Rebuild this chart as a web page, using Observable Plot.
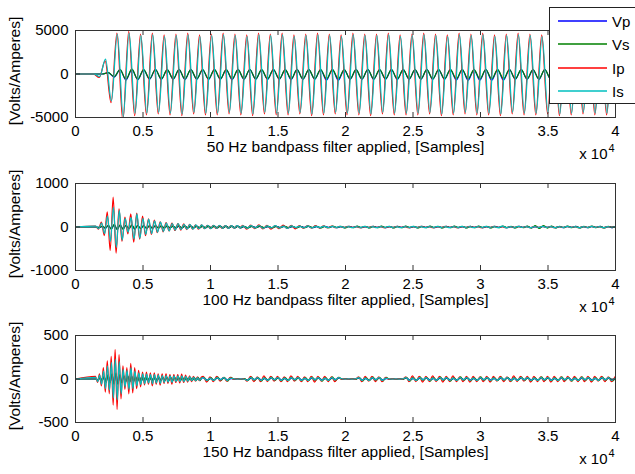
<!DOCTYPE html>
<html><head><meta charset="utf-8">
<script src="https://cdn.jsdelivr.net/npm/d3@7"></script>
<script src="https://cdn.jsdelivr.net/npm/@observablehq/plot@0.6"></script>
<style>
body{margin:0;background:#fff;}
#fig{position:relative;width:635px;height:474px;overflow:hidden;background:#fff;font-family:"Liberation Sans",Arial,sans-serif;}
.sub{position:absolute;left:0;}
#legend{position:absolute;left:549px;top:7px;width:95px;height:97px;border:1px solid #222;background:#fff;box-sizing:border-box;}
</style></head><body><div id="fig"></div><script>
// ---- shared ----
const seriesNames = ["Vp", "Vs", "Ip", "Is"];
const seriesColors = ["#0000ff", "#008000", "#ff0000", "#00bfbf"];
const xTicks = [0, 5000, 10000, 15000, 20000, 25000, 30000, 35000, 40000];
const xTickLabels = ["0", "0.5", "1", "1.5", "2", "2.5", "3", "3.5", "4"];
const yLabel = "[Volts/Amperes]";
const xLabels = ["50 Hz bandpass filter applied, [Samples]", "100 Hz bandpass filter applied, [Samples]", "150 Hz bandpass filter applied, [Samples]"];
const yTicks50 = [-5000, 0, 5000];
const yTicks100 = [-1000, 0, 1000];
const yTicks150 = [-500, 0, 500];

// ---- 50 Hz: extremum values per half cycle (samples) ----
const start50 = 1352, half50 = 437;
const shift50 = [200, 200, -30, 0];
const Vp50 = [0,0,150,-350,500,-700,500,-650,480,-600,500,-620,480,-600,500,-650,500,-600,480,-620,500,-600,480,-650,500,-600,500,-600,480,-620,500,-600,480,-650,500,-600,500,-600,480,-700,500,-720,480,-600,500,-600,500,-620,480,-600,500,-650,500,-600,480,-600,500,-620,480,-600,500,-700,500,-720,480,-700,500,-720,480,-700,500,-600,500,-600,480,-620,500,-600,480,-600,500,-620,500,-600,480,-600,500,-600];
const Vs50 = [0,0,150,-300,500,-600,550,-600,500,-550,520,-580,500,-560,520,-580,500,-560,520,-580,500,-560,520,-580,500,-560,520,-580,500,-560,520,-580,500,-560,520,-580,500,-560,520,-580,500,-560,520,-580,500,-560,520,-580,500,-560,520,-580,500,-560,520,-580,500,-560,520,-580,500,-560,520,-580,500,-560,520,-580,500,-560,520,-580,500,-560,520,-580,500,-560,520,-580,500,-560,520,-580,500,-560,520,-580];
const Ip50 = [0,-400,1500,-3300,4700,-5400,4900,-4800,4600,-4700,4700,-4600,4500,-4700,4600,-4800,4700,-4600,4500,-4700,4600,-4700,4700,-4600,4600,-4700,4500,-4800,4700,-4600,4600,-4700,4700,-4700,4500,-4600,4600,-4800,4700,-4700,4600,-4600,4500,-4700,4700,-4700,4600,-4800,4600,-4600,4700,-4700,4500,-4700,4600,-4700,4700,-4600,4600,-4800,4500,-4700,4700,-4600,4600,-4700,4700,-4700,4500,-4800,4600,-4600,4700,-4700,4600,-4700,4500,-4600,4700,-4800,4600,-4700,4600,-4600,4700,-4700,4500,-4700,4600,-4700];
const Is50 = [0,-300,1700,-3100,4600,-4900,4700,-4500,4400,-4500,4500,-4400,4300,-4500,4400,-4600,4500,-4400,4300,-4500,4400,-4500,4500,-4400,4400,-4500,4300,-4600,4500,-4400,4400,-4500,4500,-4500,4300,-4400,4400,-4600,4500,-4500,4400,-4400,4300,-4500,4500,-4500,4400,-4600,4400,-4400,4500,-4500,4300,-4500,4400,-4500,4500,-4400,4400,-4600,4300,-4500,4500,-4400,4400,-4500,4500,-4500,4300,-4600,4400,-4400,4500,-4500,4400,-4500,4300,-4400,4500,-4600,4400,-4500,4400,-4400,4500,-4500,4300,-4500,4400,-4500];

// ---- 100 Hz: burst (half cycles) + tail ----
const start100 = 1500, half100 = 218, tailStart100 = 12400, tailStep100 = 300;
const shift100 = [60, 60, -20, 0];
const Vp100 = [0,-10,15,-25,35,-45,50,-55,45,-45,35,-35,40,-45,35,-35,30,-30,25,-25,25,-20,20,-20,20,-20,20,-20,20,-20,20,-20,20,-20,20,-20,20,-20,20,-20,20,-20,20,-20,20,-20,20,-20,20,-20];
const Vs100 = [0,-10,20,-30,40,-50,60,-60,50,-50,40,-40,50,-50,40,-40,35,-35,30,-30,30,-25,25,-25,25,-20,20,-20,25,-20,20,-20,20,-20,20,-20,20,-20,20,-20,20,-20,20,-20,20,-20,20,-20,20,-20];
const Ip100 = [20,-50,110,-200,350,-540,685,-600,420,-330,230,-160,300,-350,320,-280,250,-200,190,-170,160,-130,120,-110,100,-90,90,-80,80,-70,70,-60,60,-50,50,-50,50,-40,40,-40,40,-35,35,-30,30,-30,30,-25,25,-20];
const Is100 = [20,-40,90,-150,250,-330,450,-470,380,-300,200,-120,220,-280,300,-260,200,-170,180,-150,140,-120,110,-100,90,-90,80,-70,80,-60,60,-50,60,-50,50,-40,50,-40,40,-40,40,-30,40,-30,30,-30,30,-25,30,-20];
const VpTail100 = [10,-15,15,-10,15,-15,10,-15,15,-10, 15,-15,10,-15,15,-10,15,-15,10,-15, 15,-10,15,-15,10,-15,15,-10,15,-15, 10,-15,15,-10,15,-15,10,-15,15,-10, 15,-15,10,-15,15,-10,15,-15,10,-15, 15,-10,15,-15,10,-15,15,-10,15,-15, 10,-15,15,-10,15,-15,10,-15,15,-10, 15,-15,10,-15,15,-10,15,-15,10,-15, 15,-10,15,-15,10,-15,15,-10,15,-15, 10,-15,15];
const VsTail100 = [15,-20,15,-15,20,-15,15,-20,15,-15, 20,-15,15,-20,15,-15,20,-15,15,-20, 15,-15,20,-15,15,-20,15,-15,20,-15, 15,-20,15,-15,20,-15,15,-20,15,-15, 20,-15,15,-20,15,-15,20,-15,15,-20, 15,-15,20,-15,15,-20,15,-15,20,-15, 15,-20,15,-15,20,-15,15,-20,15,-15, 20,-25,30,-35,35,-25,20,-20,15,-15, 20,-15,15,-20,15,-15,20,-15,15,-20, 15,-15,20];
const IpTail100 = [40,-50,45,-40,50,-45,40,-50,35,-40, 45,-35,40,-45,35,-30,35,-25,30,-25, 25,-20,20,-15,15,-10,15,-10,10,-15, 10,-10,15,-10,10,-15,10,-10,15,-10, 10,-15,10,-10,15,-10,10,-15,10,-10, 15,-10,10,-15,10,-10,15,-10,10,-15, 10,-10,15,-10,10,-15,10,-10,15,-10, 10,-15,10,-10,15,-10,10,-15,10,-10, 15,-10,10,-15,10,-10,15,-10,10,-15, 10,-10,10];
const IsTail100 = [25,-30,30,-25,35,-30,25,-20,30,-25, 20,-30,25,-15,20,-20,25,-20,20,-15, 20,-15,15,-10,15,-10,10,-15,10,-10, 15,-10,10,-15,10,-10,15,-10,10,-15, 10,-10,15,-10,10,-15,10,-10,15,-10, 10,-15,10,-10,15,-10,10,-15,10,-10, 15,-10,10,-15,20,-15,10,-10,15,-10, 10,-15,10,-10,15,-10,10,-15,10,-10, 15,-10,10,-15,10,-10,15,-10,10,-15, 10,-10,10];

// ---- 150 Hz: burst (half cycles) + tail ----
const start150 = 1500, half150 = 145, tailStart150 = 9475, tailStep150 = 250;
const shift150 = [40, 40, -15, 0];
const Vp150 = [0,-10,10,-15,25,-30,40,-40,50,-50,55,-50,40,-40,35,-30,35,-35,30,-25,25,-25,20,-20,20,-20,15,-15,15,-15,15,-15,15,-15,15,-15,15,-15,15,-15,15,-15,15,-15,15,-15,15,-15,15,-15,15,-15,15,-15,15];
const Vs150 = [0,-10,15,-20,30,-40,50,-45,60,-60,70,-60,50,-45,40,-35,40,-40,35,-30,30,-30,25,-25,25,-20,20,-20,20,-20,20,-20,20,-20,20,-20,20,-20,20,-20,20,-20,20,-20,20,-20,20,-20,20,-20,20,-20,20,-20,20];
const Ip150 = [30,-40,60,-80,130,-150,210,-170,260,-300,340,-350,280,-230,150,-120,130,-170,180,-160,130,-110,100,-90,80,-70,80,-60,70,-80,70,-60,60,-70,60,-50,60,-50,50,-60,50,-40,50,-45,55,-40,45,-35,35,-30,30,-25,25,-20,20];
const Is150 = [20,-30,45,-60,90,-110,150,-130,190,-220,230,-240,200,-170,110,-90,100,-120,130,-110,90,-80,70,-65,60,-55,55,-45,50,-55,50,-45,45,-50,40,-40,40,-35,35,-40,35,-30,35,-30,35,-30,30,-25,25,-20,20,-20,15,-15,10];
const VpTail150 = [10,-10,5,-10,10,-5,10,-10,5,0, 0,0,0,-10,10,-5,10,-10,5,-10, 10,-5,10,-10,5,-10,10,-5,10,-10, 5,-10,10,-5,10,-10,5,-10,10,-5, 10,0,0,0,0,0,10,-10,5,-10, 10,-5,10,-10,5,0,0,0,0,0, 10,-10,5,-10,10,-5,10,-10,5,-10, 10,-5,10,-10,5,-10,10,-5,10,-10, 5,-10,10,-5,10,-10,5,-10,10,-5, 10,-10,5,-10,10,-5,10,-10,5,-10, 10,-5,10,-10,5,-10,10,-5,10,-10, 5,-10,10,-5,10,-10,5,-10,10,-5, 10,-10,5];
const VsTail150 = [20,-25,20,-20,25,-20,20,-25,20,-5, 5,-5,5,-20,25,-20,20,-25,20,-20, 25,-20,20,-25,20,-20,25,-20,20,-25, 20,-20,25,-20,20,-25,20,-20,25,-20, 20,-5,5,-5,5,-5,20,-25,20,-20, 25,-20,20,-25,20,-5,5,-5,5,-5, 20,-25,20,-20,25,-20,20,-25,20,-20, 25,-20,20,-25,20,-20,25,-20,20,-25, 20,-20,25,-20,20,-25,20,-20,25,-20, 20,-25,20,-20,25,-20,20,-25,20,-20, 25,-20,20,-25,20,-20,25,-20,20,-25, 20,-20,25,-20,20,-25,20,-20,25,-20, 20,-25,20];
const IpTail150 = [30,-35,25,-30,30,-25,20,-25,20,-5, 5,-5,5,-25,30,-30,25,-30,35,-30, 30,-25,30,-30,25,-30,35,-25,30,-30, 25,-30,30,-35,30,-25,30,-30,25,-30, 20,-5,5,-5,5,-5,25,-30,30,-25, 30,-30,25,-30,20,-5,5,-5,5,-5, 25,-30,35,-30,30,-35,30,-30,35,-30, 30,-35,30,-30,35,-30,25,-30,30,-35, 30,-30,25,-30,30,-35,30,-25,30,-30, 25,-30,35,-30,30,-25,30,-35,30,-30, 25,-30,30,-35,30,-30,25,-30,30,-25, 30,-30,25,-30,30,-35,30,-25,30,-30, 25,-30,25];
const IsTail150 = [15,-15,10,-15,15,-10,15,-15,10,0, 0,0,0,-15,15,-10,15,-15,10,-15, 15,-10,15,-15,10,-15,15,-10,15,-15, 10,-15,15,-10,15,-15,10,-15,15,-10, 15,0,0,0,0,0,15,-15,10,-15, 15,-10,15,-15,10,0,0,0,0,0, 15,-15,10,-15,15,-10,15,-15,10,-15, 15,-10,15,-15,10,-15,15,-10,15,-15, 10,-15,15,-10,15,-15,10,-15,15,-10, 15,-15,10,-15,15,-10,15,-15,10,-15, 15,-10,15,-15,10,-15,15,-10,15,-15, 10,-15,15,-10,15,-15,10,-15,15,-10, 15,-15,10];

// ---- build ----
function buildPoints(start, half, burst, shift, tailStart, tailStep, tail) {
  const pts = [{x: 0, y: 0}];
  burst.forEach((v, i) => pts.push({x: start + shift + i * half, y: v}));
  if (tail) tail.forEach((v, i) => pts.push({x: tailStart + shift + i * tailStep, y: v}));
  return pts;
}

const FRAME_H = 87, FRAME_W = 540;
const axisColor = "#333";

function subplot(top, svgHeight, yTicks, series, xlabel) {
  const marks = [];
  series.forEach((pts, k) => {
    marks.push(Plot.line(pts, {x: "x", y: "y", stroke: seriesColors[k], strokeWidth: 1.2, curve: "monotone-x", clip: true}));
  });
  marks.push(
    Plot.frame({stroke: axisColor}),
    Plot.tickX(xTicks, {x: d => d, insetTop: FRAME_H - 5, stroke: axisColor}),
    Plot.tickX(xTicks, {x: d => d, insetBottom: FRAME_H - 5, stroke: axisColor}),
    Plot.tickY(yTicks, {y: d => d, insetRight: FRAME_W - 5, stroke: axisColor}),
    Plot.tickY(yTicks, {y: d => d, insetLeft: FRAME_W - 5, stroke: axisColor}),
    Plot.text([xlabel], {text: d => d, frameAnchor: "bottom", textAnchor: "middle", dy: 34, fontSize: 15.5}),
    Plot.text(["x 10"], {text: d => d, frameAnchor: "bottom-right", textAnchor: "end", dx: -8, dy: 41, fontSize: 15}),
    Plot.text(["4"], {text: d => d, frameAnchor: "bottom-right", textAnchor: "start", dx: -7, dy: 34, fontSize: 11}),
    Plot.text([yLabel], {text: d => d, frameAnchor: "left", textAnchor: "middle", rotate: -90, dx: -60, dy: -3, fontSize: 15.5})
  );
  const svg = Plot.plot({
    width: 635, height: svgHeight,
    marginLeft: 75, marginRight: 20, marginTop: 30, marginBottom: svgHeight - 30 - FRAME_H,
    style: {fontFamily: "'Liberation Sans', Arial, sans-serif", fontSize: "15px", color: "#000", background: "transparent", overflow: "visible"},
    x: {domain: [0, 40000], ticks: xTicks, tickFormat: d => xTickLabels[xTicks.indexOf(d)], tickSize: 0, tickPadding: 8, label: null},
    y: {domain: [yTicks[0], yTicks[2]], ticks: yTicks, tickFormat: d => String(d), tickSize: 0, tickPadding: 7, label: null},
    marks
  });
  svg.classList.add("sub");
  svg.style.top = top + "px";
  svg.style.position = "absolute";
  document.getElementById("fig").appendChild(svg);
}

const s50 = [Vp50, Vs50, Ip50, Is50].map((arr, k) => buildPoints(start50, half50, arr, shift50[k]));
const s100 = [[Vp100, VpTail100], [Vs100, VsTail100], [Ip100, IpTail100], [Is100, IsTail100]]
  .map(([b, t], k) => buildPoints(start100, half100, b, shift100[k], tailStart100, tailStep100, t));
const s150 = [[Vp150, VpTail150], [Vs150, VsTail150], [Ip150, IpTail150], [Is150, IsTail150]]
  .map(([b, t], k) => buildPoints(start150, half150, b, shift150[k], tailStart150, tailStep150, t));

subplot(0, 170, yTicks50, s50, xLabels[0]);
subplot(153, 170, yTicks100, s100, xLabels[1]);
subplot(305, 169, yTicks150, s150, xLabels[2]);

// ---- legend ----
const leg = document.createElement("div");
leg.id = "legend";
const ns = "http://www.w3.org/2000/svg";
const lsvg = document.createElementNS(ns, "svg");
lsvg.setAttribute("width", "95"); lsvg.setAttribute("height", "96");
const legY = [13, 36, 60, 83];
seriesNames.forEach((n, k) => {
  const ln = document.createElementNS(ns, "line");
  ln.setAttribute("x1", 8); ln.setAttribute("x2", 57);
  ln.setAttribute("y1", legY[k]); ln.setAttribute("y2", legY[k]);
  ln.setAttribute("stroke", seriesColors[k]); ln.setAttribute("stroke-width", 1.3);
  lsvg.appendChild(ln);
  const tx = document.createElementNS(ns, "text");
  tx.setAttribute("x", 62); tx.setAttribute("y", legY[k]);
  tx.setAttribute("dominant-baseline", "central");
  tx.setAttribute("font-size", "15");
  tx.setAttribute("font-family", "'Liberation Sans', Arial, sans-serif");
  tx.textContent = n;
  lsvg.appendChild(tx);
});
leg.appendChild(lsvg);
document.getElementById("fig").appendChild(leg);
</script></body></html>
